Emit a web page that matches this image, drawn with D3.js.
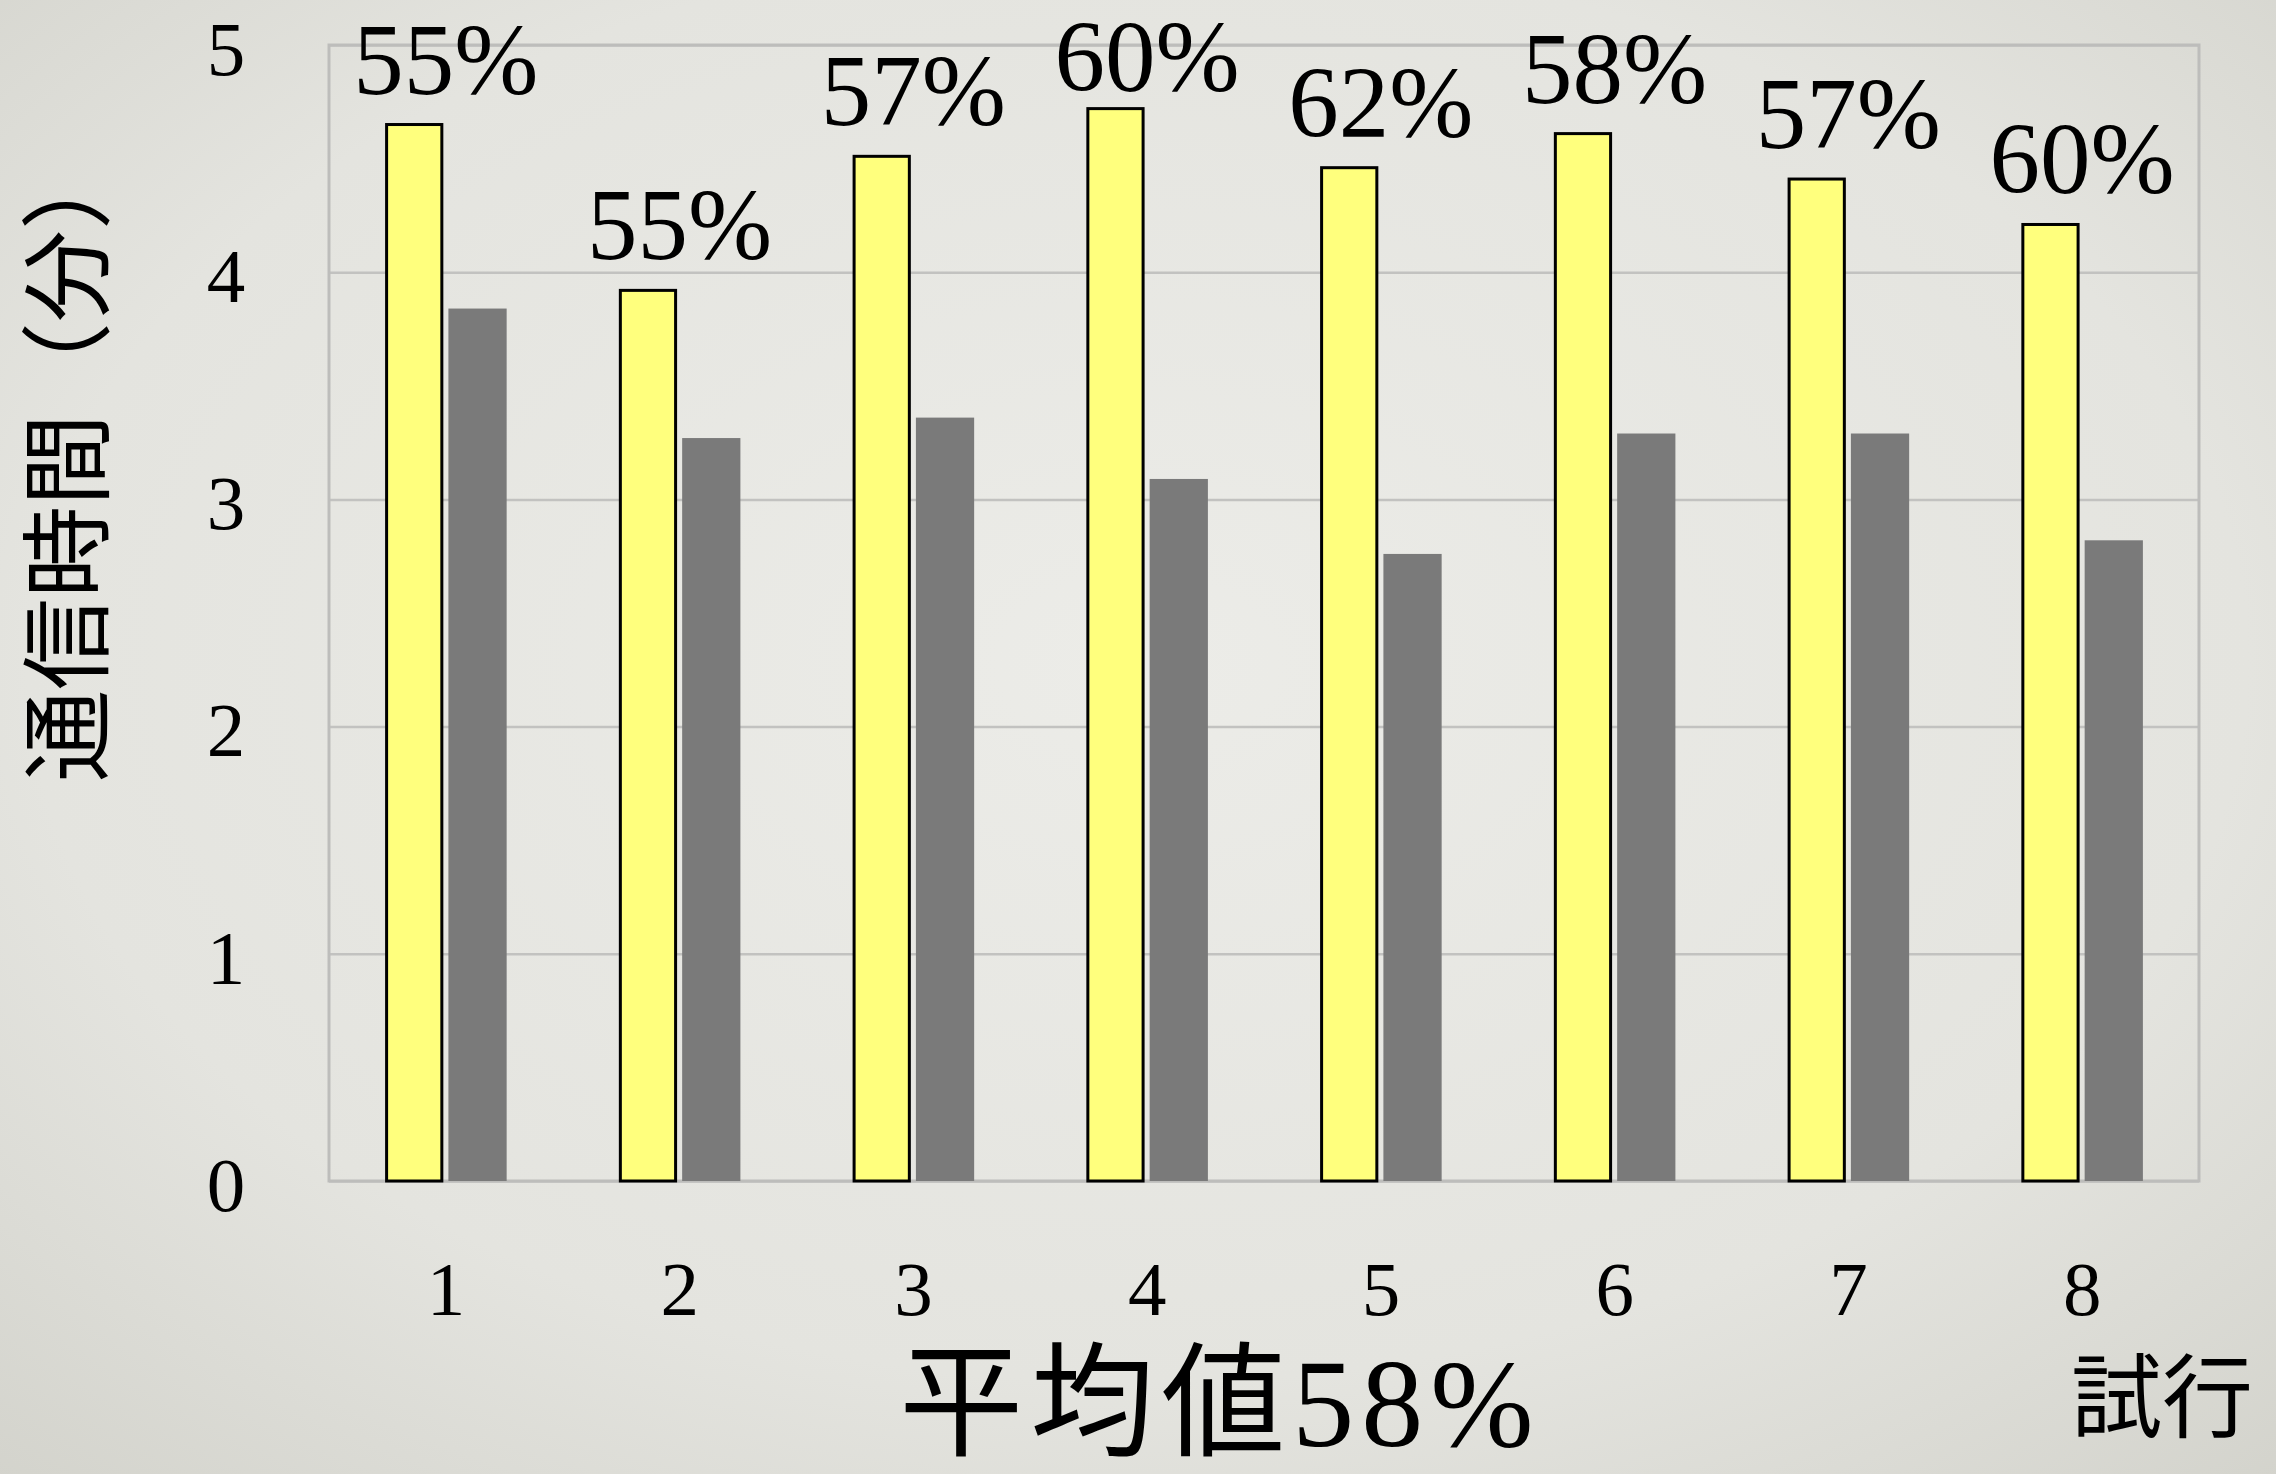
<!DOCTYPE html>
<html>
<head>
<meta charset="utf-8">
<script src="https://cdn.jsdelivr.net/npm/d3@7"></script>
<style>
  body { margin: 0; overflow: hidden; }
  text { font-family: "Liberation Serif", "Noto Sans CJK JP", serif; fill: #000; }
</style>
</head>
<body>
<div id="chart"></div>
<script>
// trials and the two series (minutes)
const trials = ["1", "2", "3", "4", "5", "6", "7", "8"];
const seriesNames = ["yellow", "gray"];
const yellowValues = [4.65, 3.92, 4.51, 4.72, 4.46, 4.61, 4.41, 4.21];
const grayValues = [3.84, 3.27, 3.36, 3.09, 2.76, 3.29, 3.29, 2.82];
const percentLabels = ["55%", "55%", "57%", "60%", "62%", "58%", "57%", "60%"];
const yTicks = [0, 1, 2, 3, 4, 5];
const yTitle = "通信時間（分）";
const xTitle = "試行";
const bottomTitle = "平均値58%";

const W = 2276, H = 1474;
const margin = {top: 45, right: 77, bottom: 293, left: 329},
      width = W - margin.left - margin.right,
      height = H - margin.top - margin.bottom;

const root = d3.select("#chart").append("svg")
    .attr("width", W)
    .attr("height", H);

// background with soft vignette
const grad = root.append("defs").append("radialGradient")
    .attr("id", "bg").attr("cx", "50%").attr("cy", "45%").attr("r", "75%");
grad.append("stop").attr("offset", "0%").attr("stop-color", "#ececE8");
grad.append("stop").attr("offset", "65%").attr("stop-color", "#e4e4df");
grad.append("stop").attr("offset", "100%").attr("stop-color", "#d3d3cc");
root.append("rect").attr("width", W).attr("height", H).attr("fill", "url(#bg)");

const svg = root.append("g")
    .attr("transform", `translate(${margin.left},${margin.top})`);

const data = trials.map((t, i) => ({trial: t, yellow: yellowValues[i], gray: grayValues[i], label: percentLabels[i]}));

const x = d3.scaleBand()
    .domain(trials)
    .range([0, width]);

const groupW = x.bandwidth() * 0.52;
const x1 = d3.scaleBand()
    .domain(seriesNames)
    .range([0, groupW])
    .paddingInner(0.08);

const y = d3.scaleLinear()
    .domain([0, 5])
    .range([height, 0]);

// gridlines + y labels
const yAxis = svg.append("g")
    .call(d3.axisLeft(y).tickValues(yTicks).tickSize(-width).tickFormat(d3.format("d")));
yAxis.select(".domain").remove();
yAxis.selectAll(".tick line")
    .attr("stroke", "#c2c2c0")
    .attr("stroke-width", 2.5);
yAxis.selectAll(".tick text")
    .attr("x", -103)
    .attr("dy", "0.38em")
    .attr("text-anchor", "middle")
    .style("font-size", "77px");

// plot frame
svg.append("rect")
    .attr("width", width)
    .attr("height", height)
    .attr("fill", "none")
    .attr("stroke", "#bdbdbb")
    .attr("stroke-width", 3);

// x labels
const xAxis = svg.append("g")
    .attr("transform", `translate(0,${height})`)
    .call(d3.axisBottom(x).tickSize(0));
xAxis.select(".domain").remove();
xAxis.selectAll(".tick text")
    .attr("y", 134)
    .attr("dy", 0)
    .style("font-size", "77px");

const groups = svg.selectAll(".grp")
    .data(data)
    .enter().append("g")
    .attr("transform", d => `translate(${x(d.trial) + (x.bandwidth() - groupW) / 2},0)`);

groups.append("rect")
    .attr("x", x1("gray"))
    .attr("y", d => y(d.gray))
    .attr("width", x1.bandwidth())
    .attr("height", d => height - y(d.gray))
    .attr("fill", "#7a7a7a");

groups.append("rect")
    .attr("x", x1("yellow") + 1.5)
    .attr("y", d => y(d.yellow))
    .attr("width", x1.bandwidth() - 3)
    .attr("height", d => height - y(d.yellow))
    .attr("fill", "#ffff7d")
    .attr("stroke", "#000")
    .attr("stroke-width", 3);

// percentage labels above bars (kept inside the page)
svg.selectAll(".pct")
    .data(data)
    .enter().append("text")
    .attr("x", d => x(d.trial) + x.bandwidth() / 2)
    .attr("y", d => Math.max(y(d.yellow) - 31, 46))
    .attr("text-anchor", "middle")
    .style("font-size", "101px")
    .text(d => d.label);

// y axis title
root.append("text")
    .attr("transform", "translate(70,782) rotate(-90)")
    .attr("text-anchor", "start")
    .attr("dominant-baseline", "central")
    .style("font-size", "92px")
    .text(yTitle);

// x axis title
root.append("text")
    .attr("x", 2071)
    .attr("y", 1430)
    .style("font-size", "91px")
    .text(xTitle);

// bottom title
root.append("text")
    .attr("x", 1220)
    .attr("y", 1446)
    .attr("text-anchor", "middle")
    .style("font-size", "124px")
    .style("letter-spacing", "7px")
    .text(bottomTitle);
</script>
</body>
</html>
